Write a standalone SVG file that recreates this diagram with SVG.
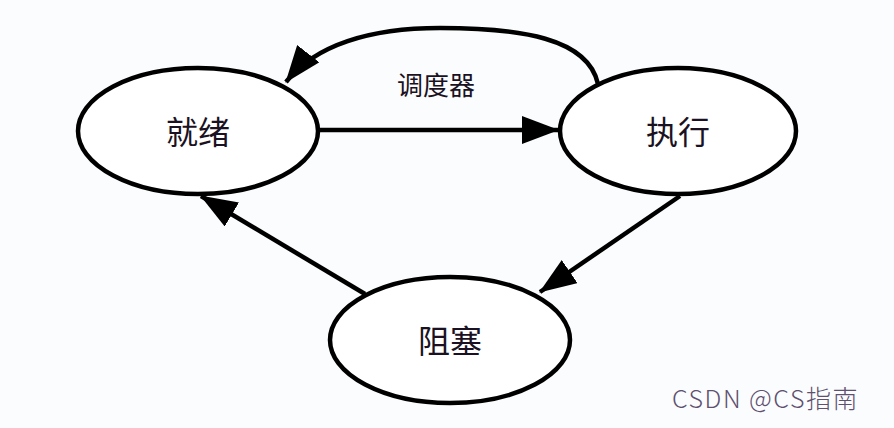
<svg xmlns="http://www.w3.org/2000/svg" width="894" height="428" viewBox="0 0 894 428">
<style>
.node ellipse{fill:#ffffff;stroke:#000;stroke-width:4.5}
.lbl{font-family:"Noto Sans CJK SC","Noto Sans",sans-serif;font-size:32px;fill:#1a1222;text-anchor:middle;dominant-baseline:central}
.edge{fill:none;stroke:#000;stroke-width:4.5}
.elbl{font-family:"Noto Sans CJK SC","Noto Sans",sans-serif;font-size:26px;fill:#1a1222;text-anchor:middle;dominant-baseline:central}
.wm{font-family:"Noto Sans CJK SC","Noto Sans",sans-serif;font-size:25px;font-weight:300;letter-spacing:1.5px;fill:#5d5070;text-anchor:start;dominant-baseline:central}
</style>
<defs>
<marker id="ah" markerUnits="userSpaceOnUse" markerWidth="38" markerHeight="28" refX="36" refY="14" orient="auto">
<path d="M0,0 L37,14 L0,28 Z" fill="#000"/>
</marker>
</defs>
<rect width="894" height="428" fill="#fbfcfd"/>
<g id="edges">
<path class="edge" d="M318,130 L558,130" marker-end="url(#ah)"/>
<path class="edge" d="M598,84 C588,38 520,28 440,28 C370,28 315,45 286,82" marker-end="url(#ah)"/>
<path class="edge" d="M680,196 L540,292" marker-end="url(#ah)"/>
<path class="edge" d="M365,294 L201,196" marker-end="url(#ah)"/>
<text class="elbl" x="436" y="83">调度器</text>
</g>
<g id="node-ready" class="node">
<ellipse cx="198" cy="131" rx="120" ry="63"/>
<text class="lbl" x="198" y="130">就绪</text>
</g>
<g id="node-run" class="node">
<ellipse cx="678" cy="131" rx="118" ry="63"/>
<text class="lbl" x="678" y="130">执行</text>
</g>
<g id="node-block" class="node">
<ellipse cx="450" cy="340" rx="120" ry="63"/>
<text class="lbl" x="450" y="339">阻塞</text>
</g>
<text class="wm" x="672" y="397">CSDN @CS指南</text>
</svg>
